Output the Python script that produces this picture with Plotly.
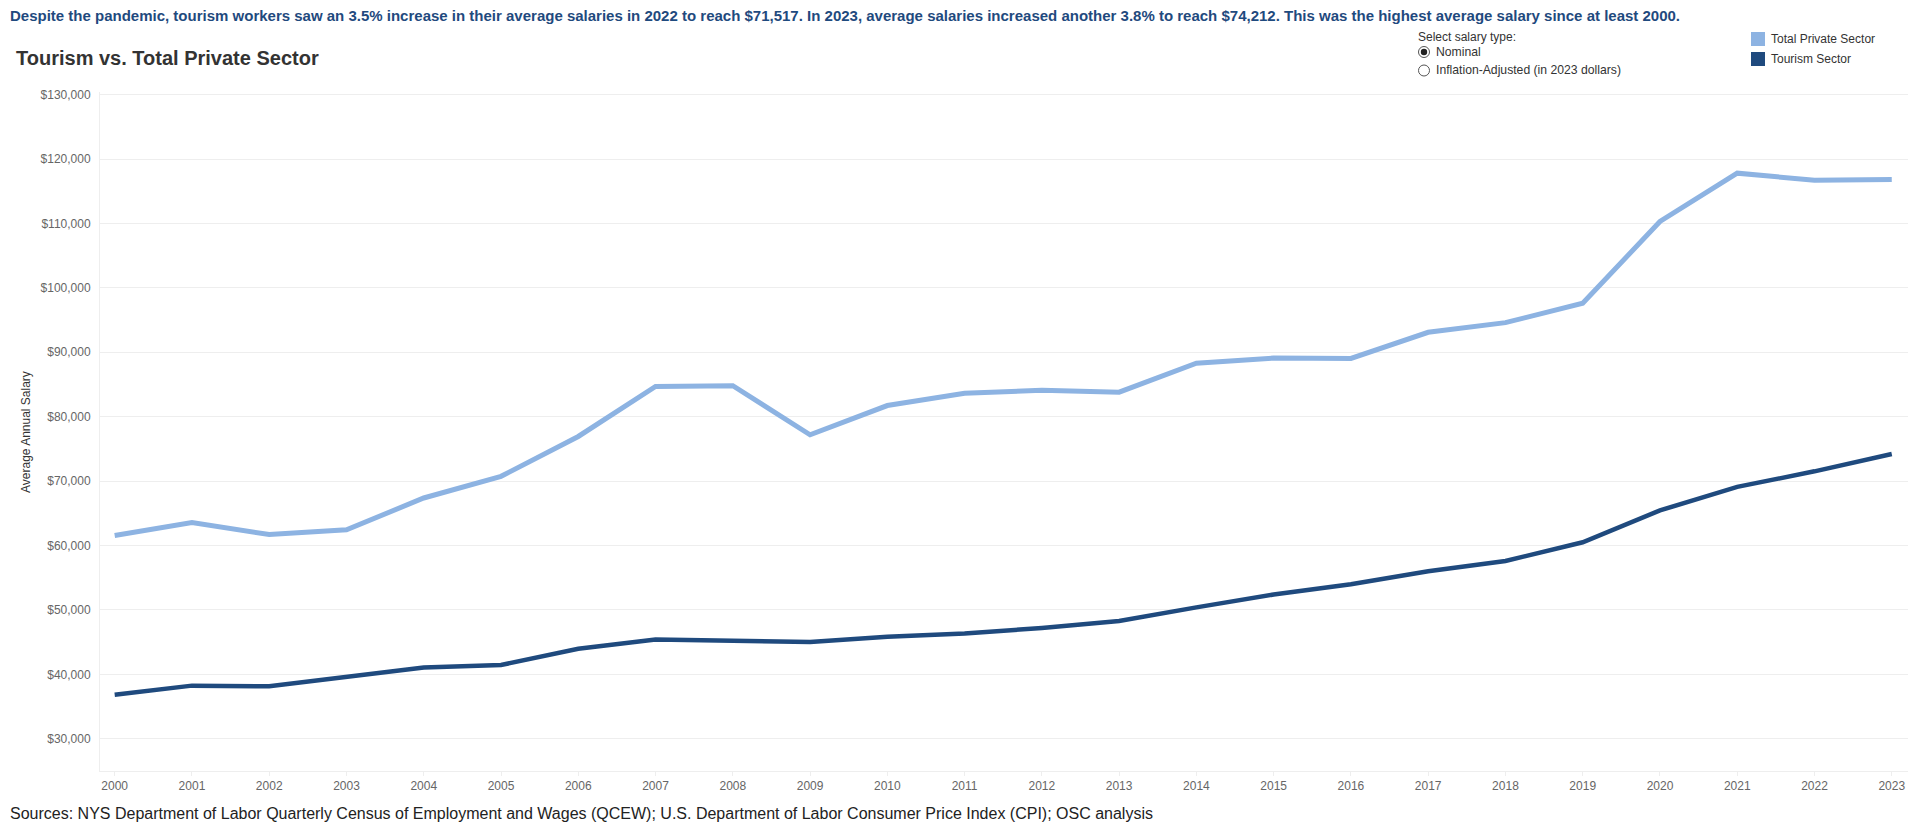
import plotly.graph_objects as go

years = list(range(2000, 2024))
total_private = [61550, 63560, 61700, 62430, 67380, 70740, 76930, 84700, 84800, 77190,
                 81730, 83650, 84100, 83800, 88300, 89100, 89050, 93100, 94600, 97600,
                 110300, 117800, 116700, 116800]
tourism = [36850, 38250, 38140, 39590, 41080, 41450, 43970, 45420, 45210, 45010,
           45830, 46350, 47200, 48300, 50400, 52400, 54000, 56020, 57600, 60500,
           65450, 69100, 71517, 74212]
series_names = ["Total Private Sector", "Tourism Sector"]
series_colors = ["#8DB3E2", "#1F4A7E"]
y_ticks = [30000, 40000, 50000, 60000, 70000, 80000, 90000, 100000, 110000, 120000, 130000]

# page body has an 8px margin; size the figure so it fits the 1920x831 window
OFF = 8
W, H = 1920 - 2 * OFF, 831 - 2 * OFF
# plot area in page pixels: left 100, right 1908, top 92, bottom 771
L, R, T, B = 100 - OFF, W - (1908 - OFF), 92 - OFF, H - (771 - OFF)
PW, PH = W - L - R, H - T - B

def px(x):
    return (x - OFF - L) / PW

def py(y):
    return (H - B - (y - OFF)) / PH

fig = go.Figure()
fig.add_trace(go.Scatter(x=years, y=total_private, mode="lines", name=series_names[0],
                         line=dict(color=series_colors[0], width=5), showlegend=False))
fig.add_trace(go.Scatter(x=years, y=tourism, mode="lines", name=series_names[1],
                         line=dict(color=series_colors[1], width=4.5), showlegend=False))

shapes = []
annotations = []
font = "Arial, Liberation Sans, sans-serif"

annotations.append(dict(xref="paper", yref="paper", x=px(8), y=py(16), xanchor="left", yanchor="middle",
                        showarrow=False,
                        text="<b>Despite the pandemic, tourism workers saw an 3.5% increase in their average salaries in 2022 to reach $71,517. In 2023, average salaries increased another 3.8% to reach $74,212. This was the highest average salary since at least 2000.</b>",
                        font=dict(family=font, size=15, color="#1F4A7E")))
annotations.append(dict(xref="paper", yref="paper", x=px(14), y=py(58), xanchor="left", yanchor="middle",
                        showarrow=False, text="<b>Tourism vs. Total Private Sector</b>",
                        font=dict(family=font, size=20, color="#333333")))
annotations.append(dict(xref="paper", yref="paper", x=px(8), y=py(813), xanchor="left", yanchor="middle",
                        showarrow=False,
                        text="Sources: NYS Department of Labor Quarterly Census of Employment and Wages (QCEW); U.S. Department of Labor Consumer Price Index (CPI); OSC analysis",
                        font=dict(family=font, size=16, color="#222222")))
annotations.append(dict(xref="paper", yref="paper", x=px(26), y=py(432), xanchor="center", yanchor="middle",
                        showarrow=False, text="Average Annual Salary", textangle=-90,
                        font=dict(family=font, size=12, color="#333333")))

annotations.append(dict(xref="paper", yref="paper", x=px(1416), y=py(37), xanchor="left", yanchor="middle",
                        showarrow=False, text="Select salary type:",
                        font=dict(family=font, size=12, color="#333333")))
for i, (label, sel) in enumerate([("Nominal", True), ("Inflation-Adjusted (in 2023 dollars)", False)]):
    cy = 52 + i * 18.5
    cx = 1424
    shapes.append(dict(type="circle", xref="paper", yref="paper",
                       x0=px(cx - 5.5), x1=px(cx + 5.5), y0=py(cy + 5.5), y1=py(cy - 5.5),
                       line=dict(color="#555555", width=1), fillcolor="white"))
    if sel:
        shapes.append(dict(type="circle", xref="paper", yref="paper",
                           x0=px(cx - 3.2), x1=px(cx + 3.2), y0=py(cy + 3.2), y1=py(cy - 3.2),
                           line=dict(width=0), fillcolor="#222222"))
    annotations.append(dict(xref="paper", yref="paper", x=px(1434), y=py(cy), xanchor="left", yanchor="middle",
                            showarrow=False, text=label,
                            font=dict(family=font, size=12.2, color="#333333")))

for i, (name, col) in enumerate(zip(series_names, series_colors)):
    cy = 39 + i * 20
    shapes.append(dict(type="rect", xref="paper", yref="paper",
                       x0=px(1751), x1=px(1765), y0=py(cy + 7), y1=py(cy - 7),
                       line=dict(width=0), fillcolor=col))
    annotations.append(dict(xref="paper", yref="paper", x=px(1769), y=py(cy), xanchor="left", yanchor="middle",
                            showarrow=False, text=name,
                            font=dict(family=font, size=12, color="#333333")))

fig.update_layout(
    width=W, height=H,
    margin=dict(l=L, r=R, t=T, b=B, pad=0),
    paper_bgcolor="white", plot_bgcolor="white",
    shapes=shapes, annotations=annotations,
    font=dict(family=font),
    xaxis=dict(range=[1999.81, 2023.21], tickmode="array", tickvals=years,
               ticktext=[str(y) for y in years], showgrid=False, zeroline=False,
               showline=True, linecolor="#eeeeee", linewidth=1,
               ticks="outside", ticklen=4, tickcolor="#eeeeee",
               tickfont=dict(family=font, size=12, color="#666666")),
    yaxis=dict(range=[25000, 130400], tickmode="array", tickvals=y_ticks,
               ticktext=["${:,}".format(v) for v in y_ticks],
               showgrid=True, gridcolor="#eeeeee", gridwidth=1, zeroline=False,
               showline=True, linecolor="#eeeeee", linewidth=1, ticks="",
               ticklabelstandoff=6,
               tickfont=dict(family=font, size=12, color="#666666")),
)

fig.write_html("out.html")
